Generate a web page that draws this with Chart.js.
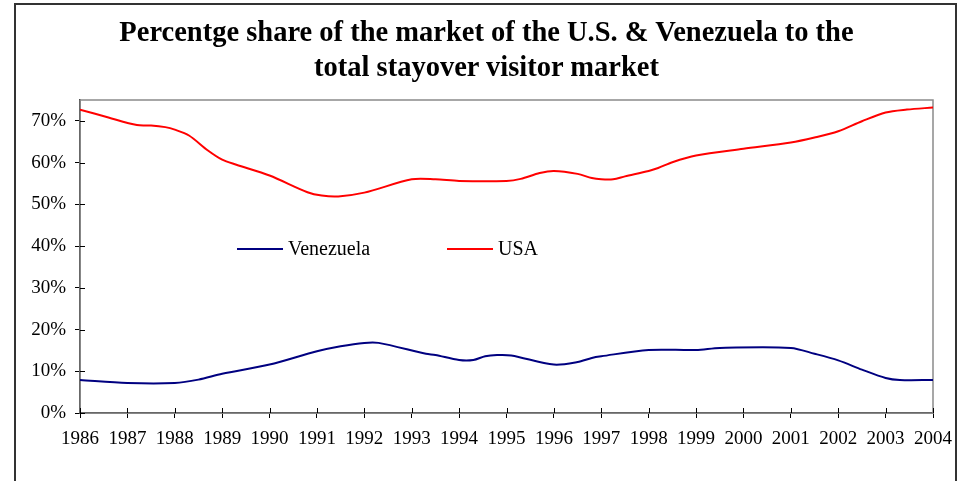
<!DOCTYPE html>
<html>
<head>
<meta charset="utf-8">
<script src="https://cdn.jsdelivr.net/npm/chart.js@4.4.0/dist/chart.umd.min.js"></script>
<style>
  body { margin: 0; background: #fff; overflow: hidden; }
  #wrap { position: relative; width: 959px; height: 481px; }
  #chart { position: absolute; left: 0; top: 0; }
  #frame { position: absolute; left: 14px; top: 3px; width: 939px; height: 600px;
           border: 2px solid #333; pointer-events: none; }
  #title { position: absolute; left: 14px; top: 15px; width: 945px; text-align: center;
           font: bold 28.5px/34.5px 'Liberation Serif', 'Times New Roman', serif; color: #000; }
  .legend-item { position: absolute; top: 237px; display: flex; align-items: center;
                 font: 20px 'Liberation Serif', 'Times New Roman', serif; color: #000; }
  .legend-item span.swatch { display: inline-block; width: 46px; height: 2px; margin-right: 5px; }
</style>
</head>
<body>
<div id="wrap">
  <canvas id="chart" width="959" height="481"></canvas>
  <div id="frame"></div>
  <div id="title"></div>
  <div id="legend"></div>
</div>
<script>
const SERIF = "'Liberation Serif', 'Times New Roman', serif";

const TITLE = [
  'Percentge share of the market of the U.S. & Venezuela to the',
  'total stayover visitor market',
];

// decimal years where the curves bend, and the % share read at each one
const venezuelaYears = [1986, 1987, 1988, 1988.5, 1989, 1990, 1991, 1991.5, 1992, 1992.3,
  1993.3, 1993.5, 1994, 1994.3, 1994.55, 1994.8, 1995.1, 1996, 1996.5, 1996.8, 1997,
  1998, 1999, 1999.5, 2001, 2001.5, 2002, 2002.5, 2003, 2003.3, 2004];
const venezuelaShare = [7.9, 7.2, 7.2, 8.0, 9.4, 11.6, 14.8, 16.0, 16.8, 16.8,
  14.2, 13.9, 12.7, 12.7, 13.6, 13.9, 13.8, 11.6, 12.2, 13.2, 13.6,
  15.1, 15.1, 15.6, 15.6, 14.2, 12.6, 10.4, 8.4, 7.9, 7.9];

const usaYears = [1986, 1986.6, 1987.2, 1987.5, 1987.8, 1988, 1988.3, 1988.7, 1989, 1989.3,
  1990, 1990.8, 1991.1, 1991.45, 1992, 1993, 1993.5, 1994, 1995, 1995.3, 1995.7, 1996,
  1996.5, 1996.8, 1997, 1997.25, 1997.5, 1998, 1998.2, 1998.5, 1999, 2000, 2001, 2001.5,
  2002, 2002.5, 2003, 2003.45, 2004];
const usaShare = [72.7, 70.8, 69.0, 68.9, 68.5, 67.9, 66.5, 62.9, 60.7, 59.5,
  56.9, 52.9, 52.1, 51.9, 52.8, 56.0, 56.0, 55.6, 55.6, 56.1, 57.5, 58.0,
  57.3, 56.3, 56.0, 56.0, 56.7, 58.0, 58.7, 60.1, 61.7, 63.3, 64.8, 66.0,
  67.5, 69.9, 72.0, 72.7, 73.2];

const yTicks = [0, 10, 20, 30, 40, 50, 60, 70];

function toPoints(xs, ys) {
  return xs.map((x, i) => ({ x: x, y: ys[i] }));
}

// grey box round the plot area (top and right show, axes cover the rest)
const plotBorder = {
  id: 'plotBorder',
  beforeDatasetsDraw(chart) {
    const { ctx, chartArea: a } = chart;
    ctx.save();
    ctx.strokeStyle = '#8a8a8a';
    ctx.lineWidth = 1.5;
    ctx.strokeRect(a.left, a.top, a.right - a.left, a.bottom - a.top);
    ctx.restore();
  },
};

// inner half of the tick marks, so they cross the axis lines
const crossTicks = {
  id: 'crossTicks',
  afterDraw(chart) {
    const { ctx, chartArea: a, scales } = chart;
    ctx.save();
    ctx.strokeStyle = '#000';
    ctx.lineWidth = 1;
    ctx.beginPath();
    scales.x.ticks.forEach(t => {
      const px = Math.round(scales.x.getPixelForValue(t.value)) + 0.5;
      ctx.moveTo(px, a.bottom - 5);
      ctx.lineTo(px, a.bottom);
    });
    scales.y.ticks.forEach(t => {
      const py = Math.round(scales.y.getPixelForValue(t.value)) + 0.5;
      ctx.moveTo(a.left, py);
      ctx.lineTo(a.left + 5, py);
    });
    ctx.stroke();
    ctx.restore();
  },
};

document.getElementById('title').innerHTML = TITLE.join('<br>');

const ctx = document.getElementById('chart').getContext('2d');

const chart = new Chart(ctx, {
  type: 'line',
  data: {
    datasets: [
      {
        label: 'Venezuela',
        data: toPoints(venezuelaYears, venezuelaShare),
        borderColor: '#000080',
        borderWidth: 2,
        pointRadius: 0,
        tension: 0.3,
      },
      {
        label: 'USA',
        data: toPoints(usaYears, usaShare),
        borderColor: '#ff0000',
        borderWidth: 2,
        pointRadius: 0,
        tension: 0.3,
      },
    ],
  },
  options: {
    responsive: false,
    animation: false,
    layout: { padding: { left: 0, right: 26, top: 100, bottom: 28 } },
    plugins: {
      legend: { display: false },
      tooltip: { enabled: false },
    },
    scales: {
      x: {
        type: 'linear',
        min: 1986,
        max: 2004,
        afterFit(scale) {
          scale.height = 40;
          scale.paddingLeft = 0;
          scale.paddingRight = 0;
        },
        grid: { drawOnChartArea: false, color: '#000', tickLength: 5 },
        border: { color: '#000', width: 1.5 },
        ticks: {
          stepSize: 1,
          autoSkip: false,
          maxRotation: 0,
          padding: 10,
          color: '#000',
          font: { family: SERIF, size: 19 },
          callback: value => String(value),
        },
      },
      y: {
        min: 0,
        max: 75,
        afterFit(scale) { scale.width = 80; },
        afterBuildTicks(scale) { scale.ticks = yTicks.map(v => ({ value: v })); },
        grid: { drawOnChartArea: false, color: '#000', tickLength: 5 },
        border: { color: '#000', width: 1.5 },
        ticks: {
          padding: 9,
          color: '#000',
          font: { family: SERIF, size: 19 },
          callback: value => value + '%',
        },
      },
    },
  },
  plugins: [plotBorder, crossTicks],
});

// legend placed inside the plot, as in the original
const legendLeft = [237, 447];
const legendEl = document.getElementById('legend');
chart.data.datasets.forEach((ds, i) => {
  const item = document.createElement('div');
  item.className = 'legend-item';
  item.style.left = legendLeft[i] + 'px';
  item.innerHTML = '<span class="swatch" style="background:' + ds.borderColor + '"></span>' + ds.label;
  legendEl.appendChild(item);
});
</script>
</body>
</html>
